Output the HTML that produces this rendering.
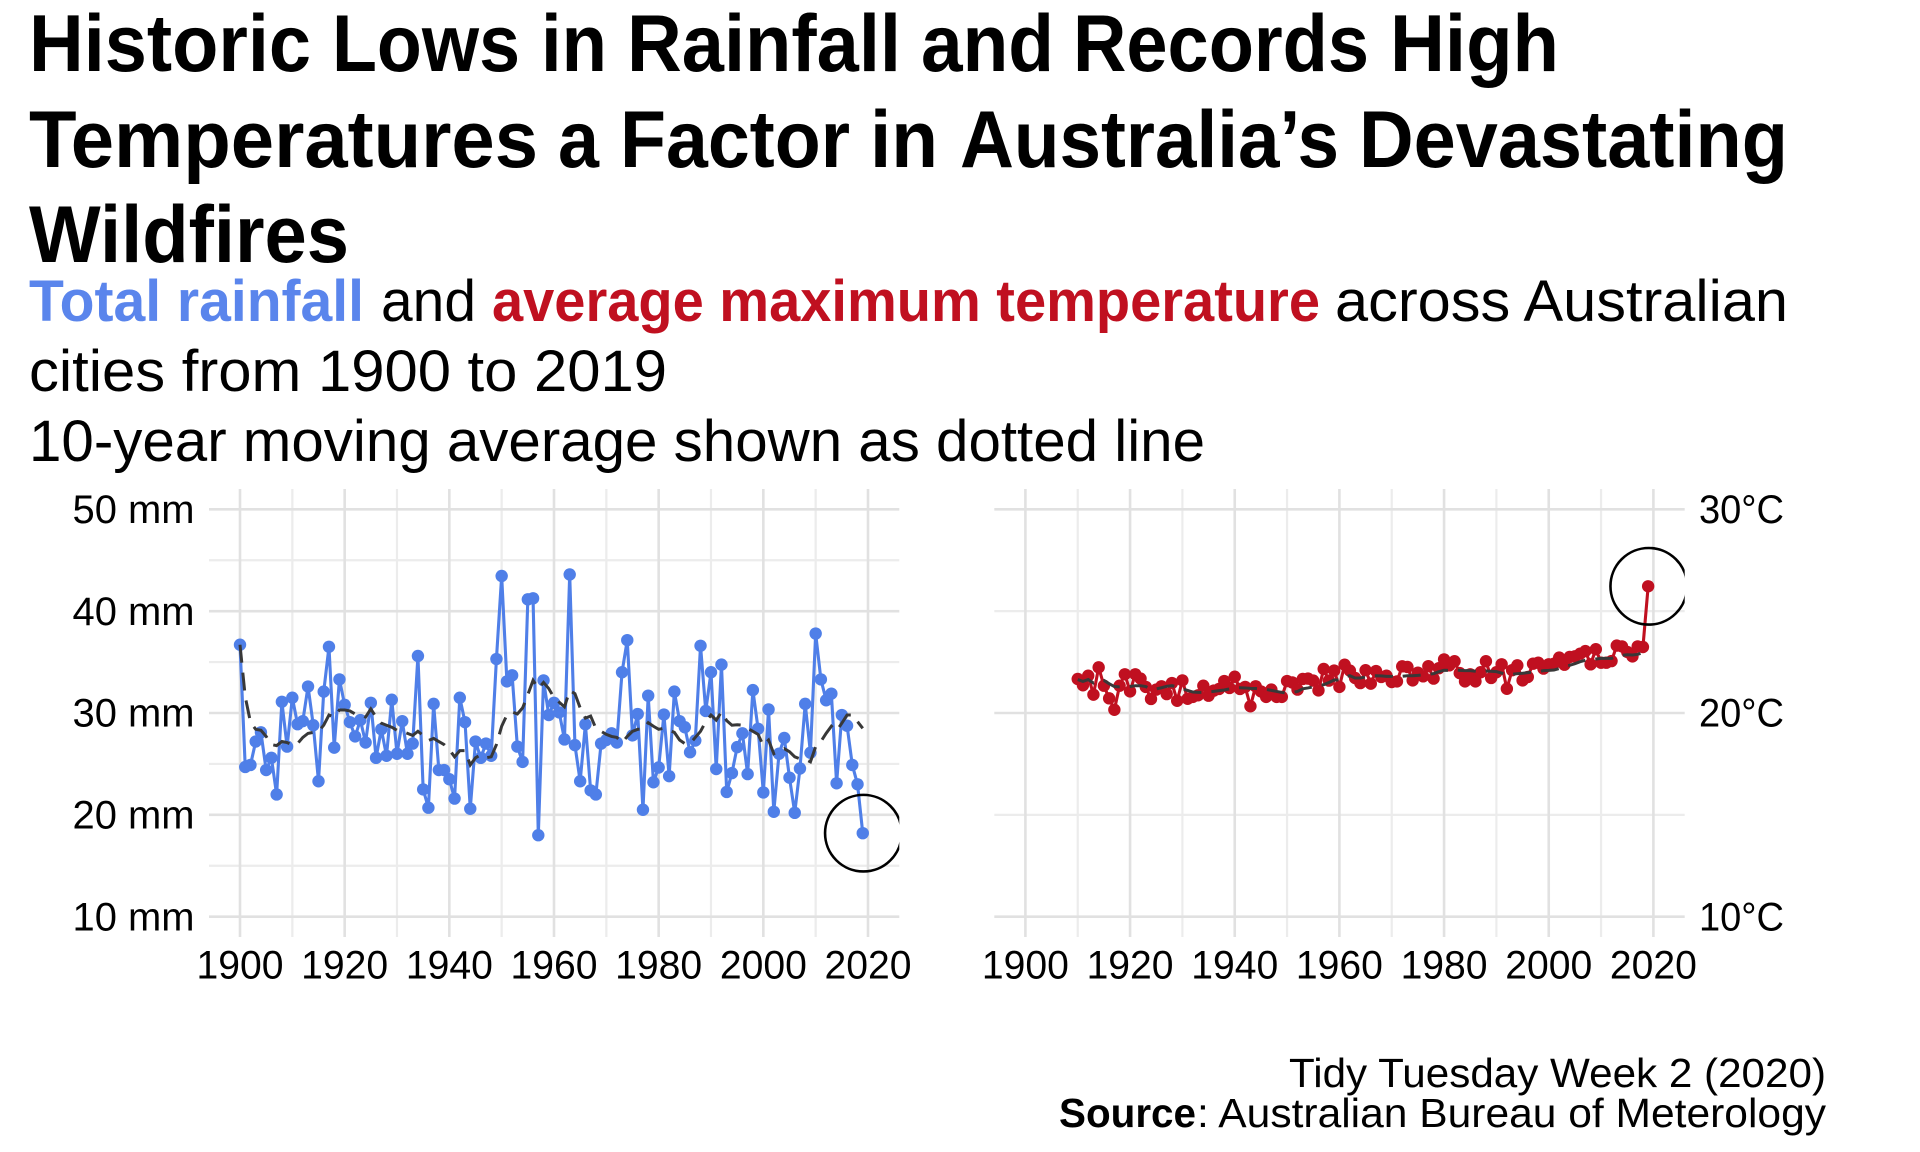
<!DOCTYPE html>
<html lang="en">
<head>
<meta charset="utf-8">
<title>Historic Lows in Rainfall and Records High Temperatures</title>
<style>
html,body{margin:0;padding:0;background:#fff;}
svg{display:block;}
text{font-family:"Liberation Sans",sans-serif;fill:#000;}
.title{font-size:81px;font-weight:700;}
.sub{font-size:58.5px;}
.subb{font-size:58.5px;font-weight:700;}
.tick{font-size:39.5px;}
.cap{font-size:40.5px;}
</style>
</head>
<body>
<svg id="chart" xmlns="http://www.w3.org/2000/svg" width="1920" height="1152" viewBox="0 0 1920 1152">
  <rect x="0" y="0" width="1920" height="1152" fill="#fff"/>
  <g>
    <g>
      <text class="title" x="29" y="71" textLength="282" lengthAdjust="spacingAndGlyphs">Historic</text>
      <text class="title" x="332" y="71" textLength="188" lengthAdjust="spacingAndGlyphs">Lows</text>
      <text class="title" x="541" y="71" textLength="66" lengthAdjust="spacingAndGlyphs">in</text>
      <text class="title" x="627" y="71" textLength="274" lengthAdjust="spacingAndGlyphs">Rainfall</text>
      <text class="title" x="921" y="71" textLength="133" lengthAdjust="spacingAndGlyphs">and</text>
      <text class="title" x="1073" y="71" textLength="296" lengthAdjust="spacingAndGlyphs">Records</text>
      <text class="title" x="1390" y="71" textLength="169" lengthAdjust="spacingAndGlyphs">High</text>
    </g>
    <g>
      <text class="title" x="29" y="167" textLength="509" lengthAdjust="spacingAndGlyphs">Temperatures</text>
      <text class="title" x="558" y="167" textLength="41" lengthAdjust="spacingAndGlyphs">a</text>
      <text class="title" x="620" y="167" textLength="230" lengthAdjust="spacingAndGlyphs">Factor</text>
      <text class="title" x="870" y="167" textLength="68" lengthAdjust="spacingAndGlyphs">in</text>
      <text class="title" x="960" y="167" textLength="379" lengthAdjust="spacingAndGlyphs">Australia’s</text>
      <text class="title" x="1359" y="167" textLength="429" lengthAdjust="spacingAndGlyphs">Devastating</text>
    </g>
    <text class="title" x="29" y="262" textLength="320" lengthAdjust="spacingAndGlyphs">Wildfires</text>
  </g>
  <g>
    <text class="subb" x="29" y="321" textLength="335" lengthAdjust="spacingAndGlyphs" style="fill:#5a85ec">Total rainfall</text>
    <text class="sub" x="381" y="321" textLength="95" lengthAdjust="spacingAndGlyphs">and</text>
    <text class="subb" x="492" y="321" textLength="828" lengthAdjust="spacingAndGlyphs" style="fill:#c01020">average maximum temperature</text>
    <text class="sub" x="1335" y="321" textLength="453" lengthAdjust="spacingAndGlyphs">across Australian</text>
    <text class="sub" x="29" y="391" textLength="638" lengthAdjust="spacingAndGlyphs">cities from 1900 to 2019</text>
    <text class="sub" x="29" y="461" textLength="1176" lengthAdjust="spacingAndGlyphs">10-year moving average shown as dotted line</text>
  </g>
  <defs>
    <clipPath id="clip-rain"><rect x="209" y="489" width="690.3" height="448"/></clipPath>
    <clipPath id="clip-temp"><rect x="994.3" y="489" width="690.4" height="448"/></clipPath>
  </defs>
  <g id="panel-rain"></g>
  <g id="panel-temp"></g>
  <g>
    <text class="cap" x="1289" y="1087" textLength="537" lengthAdjust="spacingAndGlyphs">Tidy Tuesday Week 2 (2020)</text>
    <text class="cap" x="1059" y="1127" textLength="137" lengthAdjust="spacingAndGlyphs" style="font-weight:700">Source</text>
    <text class="cap" x="1197" y="1127" textLength="629" lengthAdjust="spacingAndGlyphs">: Australian Bureau of Meterology</text>
  </g>
</svg>
<script>
const rainYears = [
1900,1901,1902,1903,1904,1905,1906,1907,1908,1909,
1910,1911,1912,1913,1914,1915,1916,1917,1918,1919,
1920,1921,1922,1923,1924,1925,1926,1927,1928,1929,
1930,1931,1932,1933,1934,1935,1936,1937,1938,1939,
1940,1941,1942,1943,1944,1945,1946,1947,1948,1949,
1950,1951,1952,1953,1954,1955,1956,1957,1958,1959,
1960,1961,1962,1963,1964,1965,1966,1967,1968,1969,
1970,1971,1972,1973,1974,1975,1976,1977,1978,1979,
1980,1981,1982,1983,1984,1985,1986,1987,1988,1989,
1990,1991,1992,1993,1994,1995,1996,1997,1998,1999,
2000,2001,2002,2003,2004,2005,2006,2007,2008,2009,
2010,2011,2012,2013,2014,2015,2016,2017,2018,2019];
const tempYears = rainYears.slice(10);
const rainValues = [
36.7,24.7,24.9,27.2,28.1,24.4,25.6,22.0,31.1,26.7,
31.5,28.9,29.2,32.6,28.8,23.3,32.1,36.5,26.6,33.3,
30.8,29.1,27.7,29.3,27.1,31.0,25.6,28.4,25.8,31.3,
26.0,29.2,26.0,27.0,35.6,22.5,20.7,30.9,24.4,24.4,
23.5,21.6,31.5,29.1,20.6,27.2,25.6,27.0,25.8,35.3,
43.45,33.1,33.7,26.7,25.2,41.16,41.26,18.0,33.2,29.8,
31.0,30.06,27.4,43.6,26.85,23.3,28.9,22.4,22.0,27.0,
27.35,28.0,27.1,34.0,37.15,27.8,29.9,20.5,31.7,23.2,
24.65,29.85,23.8,32.1,29.2,28.6,26.15,27.3,36.6,30.2,
34.0,24.5,34.75,22.25,24.1,26.65,28.0,24.0,32.25,28.45,
22.2,30.35,20.3,26.0,27.55,23.65,20.2,24.55,30.9,26.1,
37.8,33.3,31.25,31.9,23.1,29.8,28.75,24.9,23.0,18.2];
const rainAverage = [
36.7,31.6,29.1,28.4,28.3,27.7,26.9,26.8,27.2,27.1,
26.85,27.0,27.6,28.0,28.1,28.2,28.8,29.8,29.6,30.3,
30.3,30.2,29.9,29.8,29.6,30.4,29.6,29.0,28.8,28.6,
28.3,28.2,28.0,27.8,28.2,27.8,27.3,27.5,27.2,26.9,
26.4,25.7,26.3,26.3,24.9,25.6,25.9,25.6,25.7,26.9,
28.7,29.8,30.1,29.9,30.5,31.8,33.2,32.4,33.0,32.4,
31.5,31.05,30.6,32.2,31.9,30.5,29.5,29.7,28.5,28.2,
27.9,27.7,27.6,27.1,27.7,28.2,28.4,28.4,29.05,28.7,
28.4,28.5,28.3,28.1,27.35,27.0,27.0,27.6,28.2,29.15,
29.8,29.3,30.1,29.25,28.8,28.85,28.8,28.5,28.2,27.9,
26.8,27.35,26.0,26.3,26.5,26.2,25.7,25.5,25.45,25.2,
26.7,27.2,28.0,28.7,28.25,29.0,29.8,29.8,29.15,28.5];
const tempValues = [
21.67,21.36,21.83,20.9,22.24,21.34,20.72,20.16,21.34,21.9,
21.06,21.9,21.69,21.28,20.69,21.15,21.31,20.93,21.47,20.6,
21.6,20.7,20.79,20.87,21.34,20.85,21.1,21.18,21.57,21.23,
21.78,21.18,21.28,20.33,21.31,21.06,20.79,21.15,20.79,20.79,
21.57,21.5,21.15,21.67,21.69,21.59,21.11,22.16,21.59,22.08,
21.28,22.37,22.08,21.72,21.47,22.1,21.44,22.06,21.77,21.83,
21.52,21.55,22.29,22.26,21.6,21.98,21.8,22.3,21.69,22.2,
22.63,22.34,22.54,21.96,21.55,21.9,21.55,22.0,22.54,21.72,
22.0,22.39,21.19,22.1,22.34,21.6,21.77,22.42,22.47,22.18,
22.39,22.42,22.72,22.37,22.75,22.78,22.91,23.04,22.39,23.13,
22.47,22.47,22.55,23.31,23.27,23.0,22.78,23.27,23.24,26.22];
const tempAverage = [
21.64,21.55,21.64,21.47,21.6,21.6,21.44,21.3,21.28,21.28,
21.3,21.34,21.34,21.3,21.15,21.18,21.24,21.31,21.34,21.28,
21.18,21.11,21.03,21.01,21.01,21.03,21.06,21.1,21.13,21.18,
21.23,21.24,21.23,21.21,21.2,21.18,21.16,21.11,21.06,21.01,
20.98,21.01,21.06,21.19,21.23,21.28,21.34,21.39,21.5,21.62,
21.62,21.77,21.83,21.72,21.72,21.77,21.8,21.83,21.82,21.8,
21.8,21.75,21.8,21.83,21.83,21.85,21.87,21.9,21.93,22.03,
22.1,22.09,22.13,22.09,22.08,22.08,22.05,22.01,22.06,22.05,
22.03,21.96,21.88,21.9,21.93,21.95,21.98,22.01,22.03,22.08,
22.09,22.11,22.18,22.29,22.34,22.42,22.52,22.59,22.62,22.65,
22.68,22.68,22.68,22.78,22.83,22.86,22.85,22.88,22.96,23.13];
const xMajorTicks = [1900,1920,1940,1960,1980,2000,2020];
const xMinorTicks = [1910,1930,1950,1970,1990,2010];
const xTickLabels = ["1900","1920","1940","1960","1980","2000","2020"];
const rainMajorTicks = [10,20,30,40,50];
const rainMinorTicks = [15,25,35,45];
const rainTickLabels = ["10 mm","20 mm","30 mm","40 mm","50 mm"];
const tempMajorTicks = [10,20,30];
const tempMinorTicks = [15,25];
const tempTickLabels = ["10°C","20°C","30°C"];

const SVGNS = "http://www.w3.org/2000/svg";
function node(parent, tag, attrs, text) {
  const el = document.createElementNS(SVGNS, tag);
  for (const k in attrs) el.setAttribute(k, attrs[k]);
  if (text !== undefined) el.textContent = text;
  parent.appendChild(el);
  return el;
}

function drawPanel(opts) {
  const g = document.getElementById(opts.id);
  const x = v => opts.x1900 + (v - 1900) * 5.2333;
  const y = opts.y;
  const left = opts.left, right = opts.right, top = 489, bottom = 937;

  const grid = node(g, "g", {});
  
  
  opts.yMinor.forEach(v => {
    const l = node(grid, "line", {x1: left, x2: right, y1: y(v), y2: y(v), stroke: "#ececec", "stroke-width": 2.2});
    
    
  });
  xMinorTicks.forEach(v => {
    const l = node(grid, "line", {x1: x(v), x2: x(v), y1: top, y2: bottom, stroke: "#ececec", "stroke-width": 2.2});
    
    
  });
  opts.yMajor.forEach(v => {
    const l = node(grid, "line", {x1: left, x2: right, y1: y(v), y2: y(v), stroke: "#e1e1e1", "stroke-width": 2.6});
    
    
  });
  xMajorTicks.forEach(v => {
    const l = node(grid, "line", {x1: x(v), x2: x(v), y1: top, y2: bottom, stroke: "#e1e1e1", "stroke-width": 2.6});
    
    
  });

  const pts = opts.years.map((yr, i) => x(yr).toFixed(2) + "," + y(opts.values[i]).toFixed(2)).join(" ");
  const line = node(g, "polyline", {points: pts, fill: "none", stroke: opts.color, "stroke-width": 3.1, "stroke-linejoin": "round"});
  
  

  const dots = node(g, "g", {fill: opts.color});
  
  
  opts.years.forEach((yr, i) => {
    const c = node(dots, "circle", {cx: x(yr), cy: y(opts.values[i]), r: 6.2});
    
    
  });

  const avgPts = opts.years.map((yr, i) => x(yr).toFixed(2) + "," + y(opts.average[i]).toFixed(2)).join(" ");
  const avg = node(g, "polyline", {points: avgPts, fill: "none", stroke: "#383838", "stroke-width": 3, "stroke-dasharray": "18 10"});
  
  

  const last = opts.years.length - 1;
  const ring = node(g, "circle", {cx: x(opts.years[last]) + 0.6, cy: y(opts.values[last]), r: 38.3, fill: "none", stroke: "#000", "stroke-width": 2.6, "clip-path": "url(#" + opts.clip + ")"});
  
  

  xMajorTicks.forEach((v, i) => {
    const t = node(g, "text", {class: "tick", x: x(v), y: 978.5, "text-anchor": "middle", textLength: 87, lengthAdjust: "spacingAndGlyphs"}, xTickLabels[i]);
    
    
  });
  opts.yMajor.forEach((v, i) => {
    const t = node(g, "text", {class: "tick", x: opts.labelX, y: y(v) + 13.6, "text-anchor": opts.anchor, textLength: opts.labelW, lengthAdjust: "spacingAndGlyphs"}, opts.yLabels[i]);
    
    
  });
}

drawPanel({
  id: "panel-rain", prefix: "rainfall", clip: "clip-rain", color: "#4f7fe8",
  x1900: 240, left: 209, right: 899.3,
  y: v => 916.7 - (v - 10) * 10.185,
  years: rainYears, values: rainValues, average: rainAverage,
  yMajor: rainMajorTicks, yMinor: rainMinorTicks, yLabels: rainTickLabels,
  labelX: 194.5, anchor: "end", labelW: 122
});
drawPanel({
  id: "panel-temp", prefix: "temperature", clip: "clip-temp", color: "#c01020",
  x1900: 1025.4, left: 994.3, right: 1684.7,
  y: v => 916.7 - (v - 10) * 20.37,
  years: tempYears, values: tempValues, average: tempAverage,
  yMajor: tempMajorTicks, yMinor: tempMinorTicks, yLabels: tempTickLabels,
  labelX: 1699, anchor: "start", labelW: 85
});
</script>
</body>
</html>
